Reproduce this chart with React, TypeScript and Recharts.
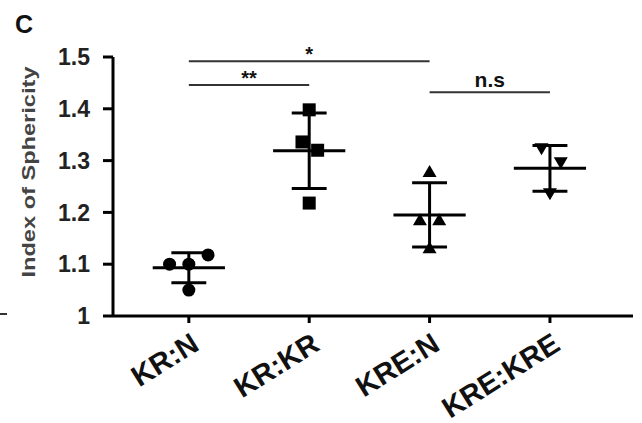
import { ComposedChart, Scatter, XAxis, YAxis, ReferenceLine } from "recharts"

const groups = ["KR:N", "KR:KR", "KRE:N", "KRE:KRE"]
const groupPos = [1, 2, 3, 4]
const yTicks = [1, 1.1, 1.2, 1.3, 1.4, 1.5]

// individual measurements (x = group position with a little jitter)
const krN = [
  { x: 0.84, y: 1.1 },
  { x: 1.0, y: 1.1 },
  { x: 1.16, y: 1.118 },
  { x: 1.0, y: 1.05 },
]
const krKr = [
  { x: 2.0, y: 1.398 },
  { x: 1.94, y: 1.336 },
  { x: 2.07, y: 1.32 },
  { x: 2.0, y: 1.218 },
]
const kreN = [
  { x: 3.0, y: 1.278 },
  { x: 2.92, y: 1.185 },
  { x: 3.08, y: 1.185 },
  { x: 3.0, y: 1.131 },
]
const kreKre = [
  { x: 3.93, y: 1.324 },
  { x: 4.09, y: 1.297 },
  { x: 4.0, y: 1.237 },
]

const means = [1.093, 1.319, 1.195, 1.285]
const sds = [0.029, 0.073, 0.062, 0.044]

const sigBars = [
  { from: 1, to: 3, y: 1.492, label: "*" },
  { from: 1, to: 2, y: 1.446, label: "**" },
  { from: 3, to: 4, y: 1.432, label: "n.s" },
]

const FONT = "'Liberation Sans', Arial, Helvetica, sans-serif"
const MEAN_HALF = 0.3
const CAP_HALF = 0.145

const Dot = (p: any) => <circle cx={p.cx} cy={p.cy} r={6.5} fill="#000" />
const Square = (p: any) => <rect x={p.cx - 6.5} y={p.cy - 6.5} width={13} height={13} fill="#000" />
const TriUp = (p: any) => (
  <polygon points={`${p.cx},${p.cy - 7} ${p.cx - 7},${p.cy + 5} ${p.cx + 7},${p.cy + 5}`} fill="#000" />
)
const TriDown = (p: any) => (
  <polygon points={`${p.cx},${p.cy + 7} ${p.cx - 7},${p.cy - 5} ${p.cx + 7},${p.cy - 5}`} fill="#000" />
)

const XTick = ({ x, y, payload }: any) => {
  const tx = x + 12
  const ty = y + 24
  return (
    <text
      x={tx}
      y={ty}
      transform={`rotate(-32 ${tx} ${ty})`}
      textAnchor="end"
      fontSize={29}
      fontWeight="bold"
      fontFamily={FONT}
      fill="#111"
    >
      {groups[payload.value - 1]}
    </text>
  )
}

export default function App() {
  return (
    <div style={{ position: "absolute", left: 0, top: 0, width: 642, height: 423, background: "#fff" }}>
      <ComposedChart width={642} height={423} margin={{ top: 57, right: 9, bottom: 0, left: 0 }}>
        <XAxis
          type="number"
          dataKey="x"
          domain={[0.37, 4.69]}
          ticks={groupPos}
          allowDataOverflow
          height={107}
          tickSize={7}
          tickMargin={2}
          axisLine={{ stroke: "#000", strokeWidth: 3 }}
          tickLine={{ stroke: "#000", strokeWidth: 3 }}
          tick={<XTick />}
          interval={0}
        />
        <YAxis
          type="number"
          dataKey="y"
          domain={[1, 1.5]}
          ticks={yTicks}
          allowDataOverflow
          width={113}
          tickSize={10}
          tickMargin={13}
          axisLine={{ stroke: "#000", strokeWidth: 3 }}
          tickLine={{ stroke: "#000", strokeWidth: 3 }}
          tick={{ fontSize: 23, fontWeight: "bold", fill: "#222", fontFamily: FONT }}
          tickFormatter={(v: number) => (v === 1 ? "1" : v.toFixed(1))}
          interval={0}
        />
        <Scatter data={krN} dataKey="y" shape={Dot} isAnimationActive={false} />
        <Scatter data={krKr} dataKey="y" shape={Square} isAnimationActive={false} />
        <Scatter data={kreN} dataKey="y" shape={TriUp} isAnimationActive={false} />
        <Scatter data={kreKre} dataKey="y" shape={TriDown} isAnimationActive={false} />

        {means.map((m, i) => {
          const c = groupPos[i]
          const sd = sds[i]
          const st = { stroke: "#000", strokeWidth: 3 }
          return [
            <ReferenceLine key={`v${i}`} segment={[{ x: c, y: m - sd }, { x: c, y: m + sd }]} {...st} ifOverflow="visible" />,
            <ReferenceLine key={`m${i}`} segment={[{ x: c - MEAN_HALF, y: m }, { x: c + MEAN_HALF, y: m }]} {...st} ifOverflow="visible" />,
            <ReferenceLine key={`t${i}`} segment={[{ x: c - CAP_HALF, y: m + sd }, { x: c + CAP_HALF, y: m + sd }]} {...st} ifOverflow="visible" />,
            <ReferenceLine key={`b${i}`} segment={[{ x: c - CAP_HALF, y: m - sd }, { x: c + CAP_HALF, y: m - sd }]} {...st} ifOverflow="visible" />,
          ]
        })}

        {sigBars.map((s, i) => (
          <ReferenceLine
            key={`s${i}`}
            segment={[{ x: s.from, y: s.y }, { x: s.to, y: s.y }]}
            stroke="#333"
            strokeWidth={2}
            ifOverflow="visible"
            label={{
              value: s.label,
              position: "top",
              offset: s.label === "n.s" ? 5 : 0,
              fontSize: s.label === "n.s" ? 21 : 20,
              fontWeight: "bold",
              fill: "#111",
              fontFamily: FONT,
            }}
          />
        ))}
      </ComposedChart>

      <svg width={642} height={423} style={{ position: "absolute", left: 0, top: 0, pointerEvents: "none" }}>
        <text x={15} y={33} fontSize={25} fontWeight="bold" fontFamily={FONT} fill="#111">
          C
        </text>
        <text
          x={35}
          y={172}
          transform="rotate(-90 35 172)"
          textAnchor="middle"
          fontSize={19}
          fontWeight="bold"
          fontFamily={FONT}
          fill="#444"
          textLength={211}
          lengthAdjust="spacingAndGlyphs"
        >
          Index of Sphericity
        </text>
        <line x1={0} y1={314} x2={7} y2={314} stroke="#333" strokeWidth={2} />
      </svg>
    </div>
  )
}
